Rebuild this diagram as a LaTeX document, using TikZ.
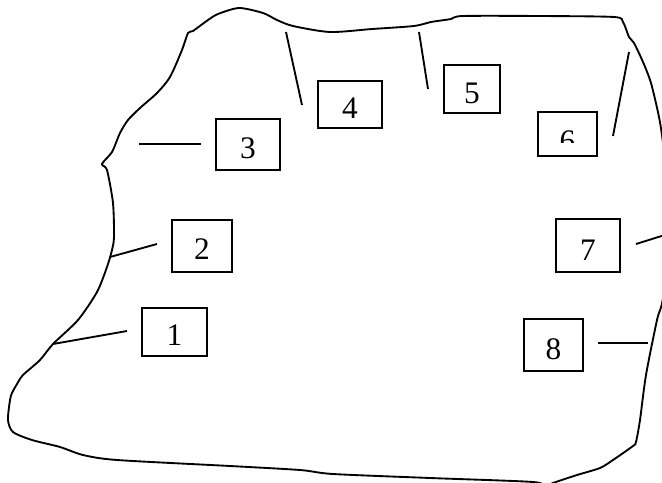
\documentclass[tikz,border=0pt]{standalone}
\usepackage{fontspec}
\setmainfont{Liberation Serif}
\begin{document}
\begin{tikzpicture}[x=0.75pt,y=-0.75pt,
  outline/.style={line width=1.4pt,line join=round},
  lead/.style={line width=1.4pt},
  tagbox/.style={draw,line width=1.4pt,inner sep=0pt,outer sep=0pt},
  tagtext/.style={inner sep=0pt,font=\fontsize{23.5}{26}\selectfont}]
\useasboundingbox (0,0) rectangle (662,483);
\clip (0,0) rectangle (662,483);
% outline of the region
\draw[outline] plot[smooth cycle,tension=0.45] coordinates{
 (102,164) (112,152) (120,133) (128,120) (140,108) (157,93) (170,77) (182,50)
 (188,33) (193,31) (208,20) (218,14) (239,8) (263,13) (277,20) (293,26) (330,32)
 (372,29) (414,26) (431,22) (451,19) (463,16) (540,16) (614,17) (623,22) (629,37)
 (634,43) (643,62) (651,83) (659,117) (663,143) (672,220) (663,298) (657,320)
 (646,375) (640,420) (636,442) (633,446) (613,460) (600,468) (577,475) (553,483)
 (545,487) (533,482) (430,478) (333,474) (300,470) (230,466) (117,460) (83,455)
 (60,447) (32,440) (13,432) (8,420) (10,400) (12,393) (17,384) (23,375) (40,360)
 (53,344) (78,320) (97,292) (107,267) (112,250) (114,237) (113,203) (107,170)};
% boxes
\node[tagbox,minimum width=48.75pt,minimum height=36pt] (b1) at (174.5,332) {};
\node[tagbox,minimum width=45pt,minimum height=39pt] (b2) at (202,246) {};
\node[tagbox,minimum width=48pt,minimum height=38.25pt] (b3) at (248,144.5) {};
\node[tagbox,minimum width=48pt,minimum height=35.25pt] (b4) at (350,104.5) {};
\node[tagbox,minimum width=42pt,minimum height=36pt] (b5) at (472,89) {};
\node[tagbox,minimum width=44.25pt,minimum height=33pt] (b6) at (567.5,134) {};
\node[tagbox,minimum width=48pt,minimum height=39.75pt] (b7) at (588,245.5) {};
\node[tagbox,minimum width=44.25pt,minimum height=39pt] (b8) at (553.5,345) {};
% labels
\node[tagtext] (t1) at ([yshift=-2.5pt]b1.center) {1};
\node[tagtext] (t2) at ([yshift=-2.5pt]b2.center) {2};
\node[tagtext] (t3) at ([yshift=-2.7pt]b3.center) {3};
\node[tagtext] (t4) at ([yshift=-3pt]b4.center) {4};
\begin{scope}
\clip (444,66) rectangle (500,103);
\node[tagtext] (t5) at ([yshift=-3.5pt]b5.center) {5};
\end{scope}
\begin{scope}
\clip (538,113) rectangle (597,142);
\node[tagtext] (t6) at ([yshift=-5.5pt]b6.center) {6};
\end{scope}
\node[tagtext] (t7) at ([yshift=-3.5pt]b7.center) {7};
\node[tagtext] (t8) at ([yshift=-3pt]b8.center) {8};
% leader lines
\coordinate (p1a) at (53,344);  \coordinate (p1b) at (127,331);
\coordinate (p2a) at (110,257); \coordinate (p2b) at (157,244);
\coordinate (p3a) at (139,144); \coordinate (p3b) at (201,144);
\coordinate (p4a) at (286,32);  \coordinate (p4b) at (302,105);
\coordinate (p5a) at (419,32);  \coordinate (p5b) at (428,89);
\coordinate (p6a) at (629,52);  \coordinate (p6b) at (613,136);
\coordinate (p7a) at (636,244); \coordinate (p7b) at (668,234);
\coordinate (p8a) at (598,343); \coordinate (p8b) at (648,343);
\draw[lead] (p1a) -- (p1b);
\draw[lead] (p2a) -- (p2b);
\draw[lead] (p3a) -- (p3b);
\draw[lead] (p4a) -- (p4b);
\draw[lead] (p5a) -- (p5b);
\draw[lead] (p6a) -- (p6b);
\draw[lead] (p7a) -- (p7b);
\draw[lead] (p8a) -- (p8b);
\end{tikzpicture}
\end{document}
